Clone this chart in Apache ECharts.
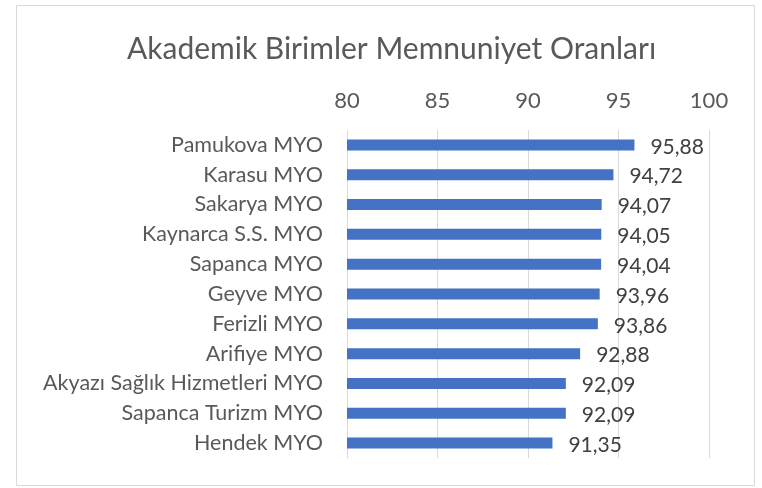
<!DOCTYPE html>
<html>
<head>
<meta charset="utf-8">
<script src="https://cdn.jsdelivr.net/npm/echarts@6/dist/echarts.min.js"></script>
<style>
  html, body { margin: 0; padding: 0; background: #fff; }
  #chart { width: 762px; height: 488px; }
</style>
</head>
<body>
<div id="chart"></div>
<script>
// kategoriler (yukaridan asagiya)
var birimler = [
  'Pamukova MYO', 'Karasu MYO', 'Sakarya MYO', 'Kaynarca S.S. MYO', 'Sapanca MYO',
  'Geyve MYO', 'Ferizli MYO', 'Arifiye MYO', 'Akyazı Sağlık Hizmetleri MYO',
  'Sapanca Turizm MYO', 'Hendek MYO'
];
var oranlar = [95.88, 94.72, 94.07, 94.05, 94.04, 93.96, 93.86, 92.88, 92.09, 92.09, 91.35];
var eksenMin = 80, eksenMax = 100, eksenAralik = 5;

var fontAdi = 'Lato, "Open Sans", sans-serif';
var myChart = echarts.init(document.getElementById('chart'));

var option = {
  backgroundColor: '#fff',
  animation: false,
  title: {
    text: 'Akademik Birimler Memnuniyet Oranları',
    left: 122,
    top: 29,
    textStyle: { fontFamily: fontAdi, fontSize: 30, fontWeight: 'normal', color: '#595959' }
  },
  graphic: [{
    type: 'rect',
    shape: { x: 16.5, y: 5.5, width: 738, height: 480 },
    style: { fill: 'none', stroke: '#d9d9d9', lineWidth: 1 },
    silent: true
  }],
  grid: { left: 347, right: 53, top: 130, height: 328, containLabel: false },
  xAxis: {
    type: 'value',
    position: 'top',
    min: eksenMin,
    max: eksenMax,
    interval: eksenAralik,
    axisLine: { show: false },
    axisTick: { show: false },
    axisLabel: { fontFamily: fontAdi, fontSize: 22, color: '#595959', margin: 18 },
    splitLine: { show: true, lineStyle: { color: '#d9d9d9', width: 1 } }
  },
  yAxis: {
    type: 'category',
    inverse: true,
    data: birimler,
    axisLine: { show: false },
    axisTick: { show: false },
    axisLabel: { fontFamily: fontAdi, fontSize: 21.5, color: '#595959', margin: 24 }
  },
  series: [{
    type: 'bar',
    data: oranlar,
    barWidth: 11,
    itemStyle: { color: '#4472C4' },
    label: {
      show: true,
      position: 'right',
      distance: 16,
      offset: [0, 2],
      fontFamily: fontAdi,
      fontSize: 21,
      color: '#404040',
      formatter: function (p) { return p.value.toFixed(2).replace('.', ','); }
    }
  }]
};

myChart.setOption(option);
</script>
</body>
</html>
